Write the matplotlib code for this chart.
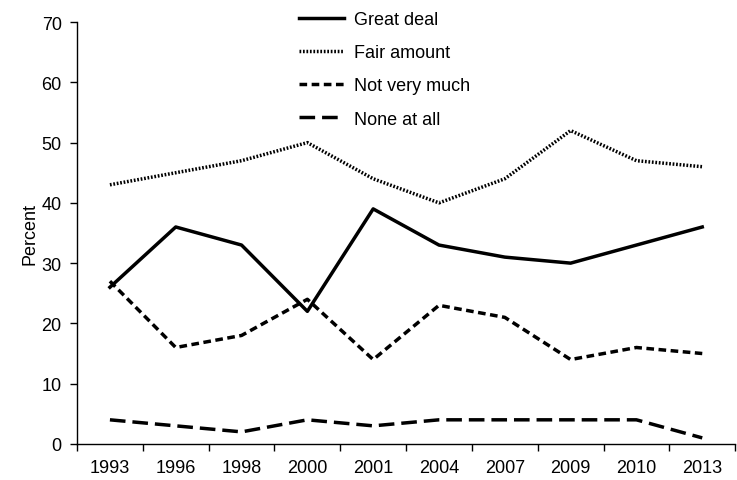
import matplotlib
matplotlib.use("Agg")
import matplotlib.pyplot as plt
import numpy as np

plt.rcParams['font.family'] = ['Liberation Sans', 'DejaVu Sans']

years = ['1993', '1996', '1998', '2000', '2001', '2004', '2007', '2009', '2010', '2013']
great_deal = [26, 36, 33, 22, 39, 33, 31, 30, 33, 36]
fair_amount = [43, 45, 47, 50, 44, 40, 44, 52, 47, 46]
not_very_much = [27, 16, 18, 24, 14, 23, 21, 14, 16, 15]
none_at_all = [4, 3, 2, 4, 3, 4, 4, 4, 4, 1]

fig = plt.figure(figsize=(7.37, 4.81), dpi=100)
ax = fig.add_axes([0.1045, 0.075, 0.893, 0.877])

x = np.arange(len(years))
ax.plot(x, great_deal, color='black', lw=2.5, ls='-', label='Great deal')
ax.plot(x, fair_amount, color='black', lw=2.5, ls=(0, (0.5, 0.5)), label='Fair amount',
        dash_capstyle='butt')
ax.plot(x, not_very_much, color='black', lw=2.5, ls=(0, (2.2, 1.3)), label='Not very much',
        dash_capstyle='butt')
ax.plot(x, none_at_all, color='black', lw=2.5, ls=(0, (4.5, 2.0)), label='None at all',
        dash_capstyle='butt')

ax.set_xlim(-0.5, len(years) - 0.5)
ax.set_ylim(0, 70)
ax.set_yticks(range(0, 71, 10))
ax.set_xticks(x)
ax.set_xticklabels(years)
ax.set_xticks(np.arange(-0.5, len(years)), minor=True)
ax.tick_params(axis='x', which='major', length=0, pad=11, labelsize=13)
ax.tick_params(axis='x', which='minor', length=5, width=1, direction='out')
ax.tick_params(axis='y', length=5, width=1, direction='out', labelsize=13, pad=6)

for s in ['top', 'right']:
    ax.spines[s].set_visible(False)
ax.spines['left'].set_linewidth(1)
ax.spines['bottom'].set_linewidth(1)

ax.set_ylabel('Percent', fontsize=13, labelpad=2)

ax.legend(loc='upper left', bbox_to_anchor=(0.3126, 1.065), frameon=False, fontsize=13,
          handlelength=2.5, handletextpad=0.55, labelspacing=0.9)

fig.savefig('out.png', dpi=100)
